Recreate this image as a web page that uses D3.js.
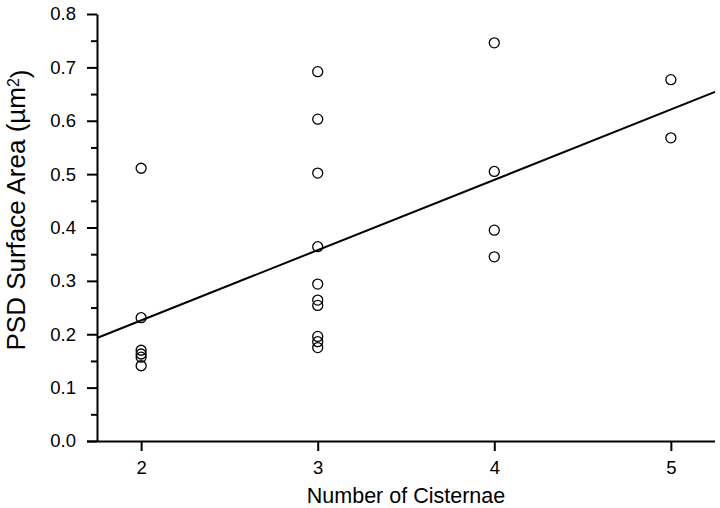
<!DOCTYPE html>
<html>
<head>
    <title>PSD Surface Area vs Cisternae</title>
    <style>
        body { margin: 0; background: #fff; }
        svg { display: block; }
        text { font-family: "Liberation Sans", Arial, sans-serif; fill: #000; }
        .axis path, .axis line { stroke: #000; stroke-width: 2px; }
        .axis text { font-size: 18.5px; }
        .dot { fill: none; stroke: #000; stroke-width: 1.3px; }
        .fit { fill: none; stroke: #000; stroke-width: 2px; }
    </style>
</head>
<body>
    <div id="chart"></div>

    <script src="https://d3js.org/d3.v7.min.js"></script>
    <script>
        // values
        const cisternae = [2, 2, 2, 2, 2, 2,
                           3, 3, 3, 3, 3, 3, 3, 3, 3, 3,
                           4, 4, 4, 4,
                           5, 5];
        const psdArea = [0.511, 0.231, 0.170, 0.163, 0.157, 0.141,
                         0.692, 0.603, 0.502, 0.364, 0.294, 0.264, 0.254, 0.196, 0.186, 0.175,
                         0.746, 0.505, 0.395, 0.345,
                         0.677, 0.568];
        // fitted line end points
        const fitX = [1.75, 5.25];
        const fitY = [0.193, 0.654];

        const xTicks = [2, 3, 4, 5];
        const yTicks = [0.0, 0.1, 0.2, 0.3, 0.4, 0.5, 0.6, 0.7, 0.8];
        const yMinor = [0.05, 0.15, 0.25, 0.35, 0.45, 0.55, 0.65, 0.75];

        const width = 720;
        const height = 508;
        const margin = {top: 14, right: 5, bottom: 67, left: 97};

        const svg = d3.select("#chart")
            .append("svg")
            .attr("width", width)
            .attr("height", height);

        const x = d3.scaleLinear()
            .domain([1.75, 5.25])
            .range([margin.left, width - margin.right]);

        const y = d3.scaleLinear()
            .domain([0, 0.8])
            .range([height - margin.bottom, margin.top]);

        const y0 = y(0);

        // minor ticks on the y axis
        svg.append("g")
            .attr("class", "axis")
            .attr("transform", `translate(${margin.left},0)`)
            .call(d3.axisLeft(y).tickValues(yMinor).tickSize(6).tickFormat(""))
            .call(g => g.select(".domain").remove());

        // y axis
        svg.append("g")
            .attr("class", "axis")
            .attr("transform", `translate(${margin.left},0)`)
            .call(d3.axisLeft(y)
                .tickValues(yTicks)
                .tickSize(10)
                .tickSizeOuter(0)
                .tickPadding(11)
                .tickFormat(d3.format(".1f")));

        // x axis
        svg.append("g")
            .attr("class", "axis")
            .attr("transform", `translate(0,${y0})`)
            .call(d3.axisBottom(x)
                .tickValues(xTicks)
                .tickSize(10)
                .tickSizeOuter(0)
                .tickPadding(10)
                .tickFormat(d3.format("d")))
            .call(g => g.select(".domain").attr("d", `M${margin.left - 10},0.5H${width - margin.right}`));

        // regression line
        svg.append("path")
            .attr("class", "fit")
            .attr("d", d3.line()
                .x(d => x(d[0]))
                .y(d => y(d[1]))(d3.zip(fitX, fitY)));

        // data points
        svg.selectAll(".dot")
            .data(d3.zip(cisternae, psdArea))
            .enter()
            .append("circle")
            .attr("class", "dot")
            .attr("cx", d => x(d[0]))
            .attr("cy", d => y(d[1]))
            .attr("r", 5);

        // axis titles
        svg.append("text")
            .attr("x", (margin.left + width - margin.right) / 2)
            .attr("y", 503)
            .attr("text-anchor", "middle")
            .style("font-size", "21.5px")
            .text("Number of Cisternae");

        const yTitle = svg.append("text")
            .attr("transform", "translate(25,210) rotate(-90)")
            .attr("text-anchor", "middle")
            .style("font-size", "26px");
        yTitle.append("tspan").text("PSD Surface Area (\u00b5m");
        yTitle.append("tspan").attr("dy", "-0.4em").style("font-size", "16px").text("2");
        yTitle.append("tspan").attr("dy", "0.4em").text(")");
    </script>
</body>
</html>
